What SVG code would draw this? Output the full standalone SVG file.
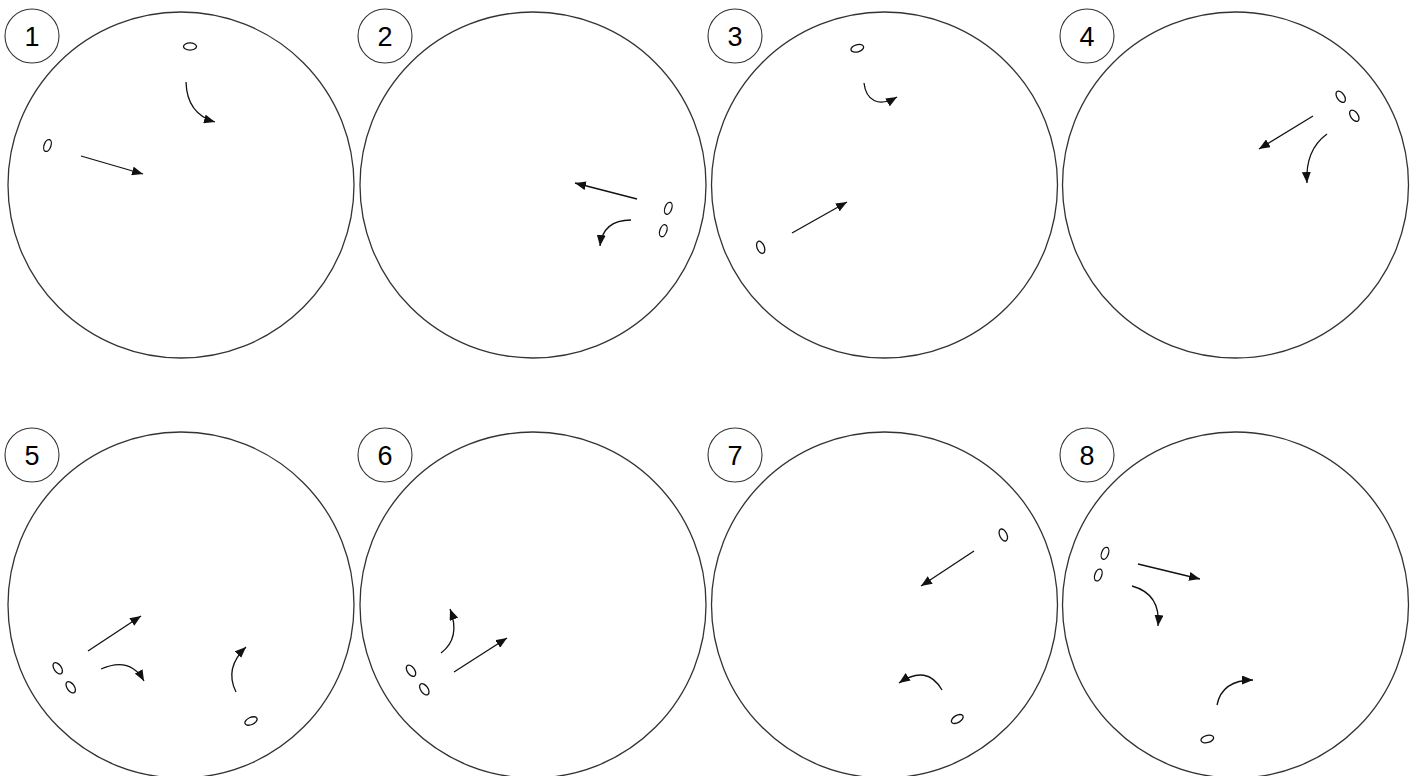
<svg xmlns="http://www.w3.org/2000/svg" width="1421" height="776" viewBox="0 0 1421 776">
<defs>
<style>
.big{fill:none;stroke:#333;stroke-width:1.3}
.lab{fill:#fff;stroke:#333;stroke-width:1.1}
.num{font-family:"Liberation Sans",Arial,sans-serif;font-size:27px;fill:#000;text-anchor:middle}
.obj{fill:none;stroke:#111;stroke-width:1.3}
.arr{fill:none;stroke:#111;stroke-width:1.3;marker-end:url(#ah)}
</style>
<marker id="ah" markerUnits="userSpaceOnUse" markerWidth="12" markerHeight="9" refX="11" refY="4.5" orient="auto">
<path d="M0,0 L11,4.5 L0,9 z" fill="#111"/>
</marker>
</defs>
<rect width="1421" height="776" fill="#fff"/>

<g id="panel1">
<circle class="big" cx="181" cy="185" r="173"/>
<circle class="lab" cx="32" cy="36" r="27"/>
<text class="num" x="32" y="46">1</text>
<ellipse class="obj" cx="190" cy="46.5" rx="6.5" ry="3.6"/>
<ellipse class="obj" cx="47.5" cy="145.5" rx="3.4" ry="6.2" transform="rotate(20 47.5 145.5)"/>
</g>
<g id="panel2">
<circle class="big" cx="533" cy="185" r="173"/>
<circle class="lab" cx="385" cy="36" r="27"/>
<text class="num" x="385" y="46">2</text>
<ellipse class="obj" cx="668.3" cy="208.3" rx="3.4" ry="6.2" transform="rotate(20 668.3 208.3)"/>
<ellipse class="obj" cx="663.3" cy="230.7" rx="3.4" ry="6.2" transform="rotate(20 663.3 230.7)"/>
</g>
<g id="panel3">
<circle class="big" cx="884.5" cy="185" r="173"/>
<circle class="lab" cx="735" cy="36" r="27"/>
<text class="num" x="735" y="46">3</text>
<ellipse class="obj" cx="857.3" cy="48.3" rx="6.5" ry="3.6" transform="rotate(-15 857.3 48.3)"/>
<ellipse class="obj" cx="760.7" cy="247.3" rx="3.6" ry="6.4" transform="rotate(-22 760.7 247.3)"/>
</g>
<g id="panel4">
<circle class="big" cx="1235.5" cy="185" r="173"/>
<circle class="lab" cx="1087" cy="36" r="27"/>
<text class="num" x="1087" y="46">4</text>
<ellipse class="obj" cx="1340.7" cy="96.7" rx="3.6" ry="6.4" transform="rotate(-35 1340.7 96.7)"/>
<ellipse class="obj" cx="1354.3" cy="115.7" rx="3.6" ry="6.4" transform="rotate(-35 1354.3 115.7)"/>
</g>
<g id="panel5">
<circle class="big" cx="181" cy="605" r="173"/>
<circle class="lab" cx="32" cy="455" r="27"/>
<text class="num" x="32" y="465">5</text>
<ellipse class="obj" cx="57.7" cy="668.3" rx="3.6" ry="6.4" transform="rotate(-35 57.7 668.3)"/>
<ellipse class="obj" cx="70.7" cy="687.3" rx="3.6" ry="6.4" transform="rotate(-35 70.7 687.3)"/>
<ellipse class="obj" cx="251" cy="721" rx="6.5" ry="3.6" transform="rotate(-25 251 721)"/>
</g>
<g id="panel6">
<circle class="big" cx="533" cy="605" r="173"/>
<circle class="lab" cx="385" cy="455" r="27"/>
<text class="num" x="385" y="465">6</text>
<ellipse class="obj" cx="411" cy="670.7" rx="3.6" ry="6.4" transform="rotate(-35 411 670.7)"/>
<ellipse class="obj" cx="424.3" cy="689.3" rx="3.6" ry="6.4" transform="rotate(-35 424.3 689.3)"/>
</g>
<g id="panel7">
<circle class="big" cx="884.5" cy="605" r="173"/>
<circle class="lab" cx="735" cy="455" r="27"/>
<text class="num" x="735" y="465">7</text>
<ellipse class="obj" cx="1003.3" cy="535" rx="3.6" ry="6.4" transform="rotate(-25 1003.3 535)"/>
<ellipse class="obj" cx="957.3" cy="719" rx="6.5" ry="3.6" transform="rotate(-30 957.3 719)"/>
</g>
<g id="panel8">
<circle class="big" cx="1235.5" cy="605" r="173"/>
<circle class="lab" cx="1087" cy="455" r="27"/>
<text class="num" x="1087" y="465">8</text>
<ellipse class="obj" cx="1105" cy="553.3" rx="3.4" ry="6.2" transform="rotate(20 1105 553.3)"/>
<ellipse class="obj" cx="1098.3" cy="575" rx="3.4" ry="6.2" transform="rotate(20 1098.3 575)"/>
<ellipse class="obj" cx="1207.3" cy="739" rx="6.5" ry="3.6" transform="rotate(-15 1207.3 739)"/>
</g>

<g id="connectors">
<path class="arr" d="M186,82 Q187,114 215,122"/>
<path class="arr" d="M81,156 L143,174"/>
<path class="arr" d="M637,199 L575,183"/>
<path class="arr" d="M631,220 Q603,220 600,246"/>
<path class="arr" d="M864,83 C866,100 878,108 897,97"/>
<path class="arr" d="M792,233 L847,202"/>
<path class="arr" d="M1313,116 L1259,149"/>
<path class="arr" d="M1327,134 Q1305,150 1307,183"/>
<path class="arr" d="M88,651 L141,616"/>
<path class="arr" d="M101,669 Q130,656 144,681"/>
<path class="arr" d="M236,692 Q224,668 246,647"/>
<path class="arr" d="M441,653 Q461,638 450,609"/>
<path class="arr" d="M454,672 L507,638"/>
<path class="arr" d="M974,551 L921,586"/>
<path class="arr" d="M942,690 Q927,664 899,683"/>
<path class="arr" d="M1138,564 L1200,579"/>
<path class="arr" d="M1132,586 Q1161,594 1158,626"/>
<path class="arr" d="M1217,705 Q1222,680 1253,680"/>
</g>
</svg>
